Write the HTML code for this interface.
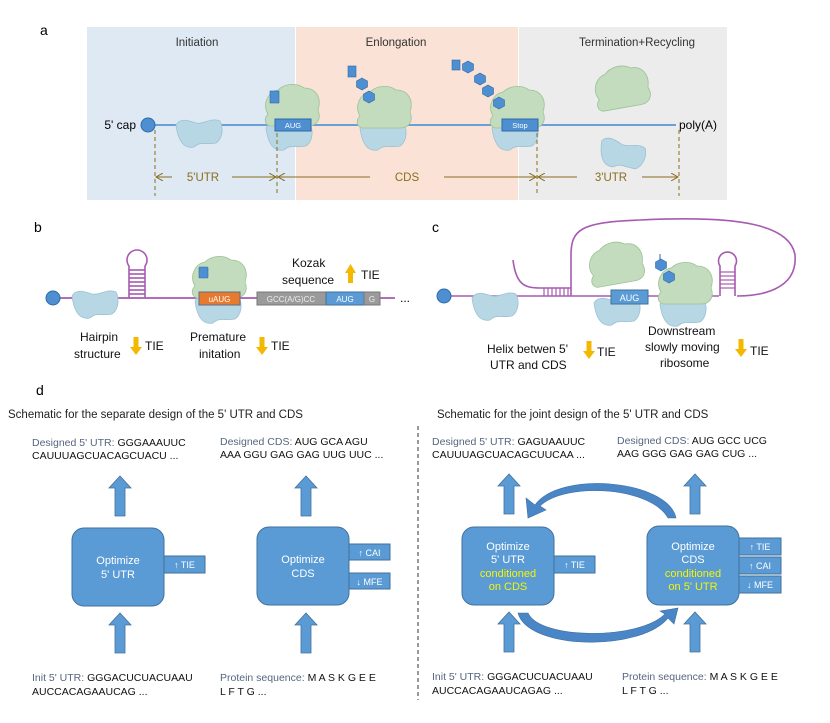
<!DOCTYPE html>
<html><head><meta charset="utf-8"><style>
body{margin:0;background:#fff}
svg{display:block;font-family:"Liberation Sans",sans-serif}
</style></head><body>
<svg width="830" height="723" viewBox="0 0 830 723" xmlns="http://www.w3.org/2000/svg">
<defs>
<marker id="ah" markerWidth="8" markerHeight="8" refX="7" refY="4" orient="auto"><path d="M0,0 L7,4 L0,8" fill="none" stroke="#8a6d1e" stroke-width="1"/></marker>
<g id="upA"><path d="M-5,0 L-5,-28 L-11,-28 L0,-40 L11,-28 L5,-28 L5,0 Z" fill="#5b9bd5" stroke="#41719c" stroke-width="0.8"/></g>
<g id="small"><path d="M0,8 C4,0 14,4 20,6 C28,8 34,0 44,4 C48,12 46,22 40,26 C30,28 24,24 18,30 C8,32 2,24 0,8Z" fill="#b8d7e5" stroke="#9cc1d3" stroke-width="0.8"/></g>
<g id="big"><path d="M6,30 C0,20 6,8 16,6 C22,0 34,-2 42,4 C54,4 60,14 56,26 C60,36 54,42 46,42 L8,42 C2,40 2,34 6,30Z" fill="#c3dcbd" stroke="#9cc295" stroke-width="0.8"/></g>
<g id="hex"><polygon points="0,-6 5.5,-3 5.5,3 0,6 -5.5,3 -5.5,-3" fill="#4d8fd0" stroke="#2f6aa8" stroke-width="0.6"/></g>
<g id="down"><path d="M-2.5,0 L2.5,0 L2.5,10 L6,10 L0,18 L-6,10 L-2.5,10Z" fill="#f5b800"/></g>
</defs>

<!-- panel a -->
<text x="40" y="35" font-size="14">a</text>
<rect x="87" y="27" width="208" height="173" fill="#dfe9f4"/>
<rect x="296" y="27" width="222" height="173" fill="#fae3d6"/>
<rect x="519" y="27" width="208" height="173" fill="#ececec"/>
<g font-size="11.5" fill="#333" text-anchor="middle">
<text x="197" y="46">Initiation</text><text x="396" y="46">Enlongation</text><text x="637" y="46">Termination+Recycling</text></g>
<line x1="150" y1="125" x2="676" y2="125" stroke="#6a9fd8" stroke-width="2"/>
<circle cx="148" cy="125" r="7" fill="#4d8fd0" stroke="#2f6aa8"/>
<text x="136" y="129" font-size="12" text-anchor="end">5' cap</text>
<text x="679" y="129" font-size="12">poly(A)</text>
<use href="#small" x="176" y="117"/>
<use href="#small" x="266" y="120"/><use href="#big" x="262" y="84"/>
<rect x="270" y="91" width="9" height="12" fill="#4d8fd0" stroke="#2f6aa8" stroke-width="0.6"/>
<rect x="275" y="119" width="36" height="12" fill="#4d8fd0" stroke="#2f6aa8"/><text x="293" y="128" font-size="7.5" fill="#fff" text-anchor="middle">AUG</text>
<use href="#small" x="360" y="120"/><use href="#big" x="354" y="86"/>
<rect x="348" y="66" width="8" height="11" fill="#4d8fd0" stroke="#2f6aa8" stroke-width="0.6"/>
<use href="#hex" x="362" y="84"/><use href="#hex" x="369" y="97"/>
<use href="#small" x="492" y="120"/><use href="#big" x="487" y="86"/>
<rect x="452" y="60" width="8" height="10" fill="#4d8fd0" stroke="#2f6aa8" stroke-width="0.6"/>
<use href="#hex" x="468" y="67"/><use href="#hex" x="480" y="79"/><use href="#hex" x="488" y="91"/><use href="#hex" x="499" y="103"/>
<rect x="502" y="119" width="36" height="12" fill="#4d8fd0" stroke="#2f6aa8"/><text x="520" y="128" font-size="7.5" fill="#fff" text-anchor="middle">Stop</text>
<use href="#big" x="592" y="66" transform="rotate(-10 620 90)"/>
<use href="#small" x="600" y="138" transform="rotate(15 620 150)"/>
<g stroke="#8a6d1e" stroke-dasharray="4,3" stroke-width="1"><line x1="155" y1="130" x2="155" y2="196"/><line x1="277" y1="133" x2="277" y2="196"/><line x1="537" y1="133" x2="537" y2="196"/><line x1="679" y1="130" x2="679" y2="196"/></g>
<g stroke="#8a6d1e" stroke-width="1" fill="none" marker-end="url(#ah)">
<line x1="172" y1="177" x2="156" y2="177"/><line x1="232" y1="177" x2="276" y2="177"/>
<line x1="370" y1="177" x2="278" y2="177"/><line x1="444" y1="177" x2="536" y2="177"/>
<line x1="577" y1="177" x2="538" y2="177"/><line x1="642" y1="177" x2="678" y2="177"/></g>
<g font-size="11.5" fill="#8a6d1e" text-anchor="middle"><text x="203" y="181">5'UTR</text><text x="407" y="181">CDS</text><text x="611" y="181">3'UTR</text></g>

<!-- panel b -->
<text x="34" y="232" font-size="14">b</text>
<line x1="52" y1="298" x2="395" y2="298" stroke="#a75ab0" stroke-width="1.8"/>
<text x="400" y="302" font-size="12">...</text>
<g stroke="#a75ab0" stroke-width="1.6" fill="none"><path d="M129,298 L129,266 A10,10 0 1 1 145,266 L145,298"/>
<line x1="129" y1="270" x2="145" y2="270"/><line x1="129" y1="274" x2="145" y2="274"/><line x1="129" y1="278" x2="145" y2="278"/><line x1="129" y1="282" x2="145" y2="282"/><line x1="129" y1="286" x2="145" y2="286"/><line x1="129" y1="290" x2="145" y2="290"/><line x1="129" y1="294" x2="145" y2="294"/></g>
<circle cx="53" cy="298" r="7" fill="#4d8fd0" stroke="#2f6aa8"/>
<use href="#small" x="72" y="288"/>
<use href="#small" x="195" y="293"/><use href="#big" x="189" y="256"/>
<rect x="199" y="267" width="9" height="11" fill="#4d8fd0" stroke="#2f6aa8" stroke-width="0.6" rx="1"/>
<rect x="199" y="292" width="41" height="13" fill="#e87a2e" stroke="#5a6e8a"/><text x="219.5" y="302" font-size="8" fill="#fff" text-anchor="middle">uAUG</text>
<rect x="257" y="292" width="69" height="13" fill="#9a9a9a" stroke="#777"/><text x="291" y="302" font-size="8" fill="#eee" text-anchor="middle">GCC(A/G)CC</text>
<rect x="326" y="292" width="38" height="13" fill="#5b9bd5" stroke="#41719c"/><text x="345" y="302" font-size="8" fill="#fff" text-anchor="middle">AUG</text>
<rect x="364" y="292" width="16" height="13" fill="#9a9a9a" stroke="#777"/><text x="372" y="302" font-size="8" fill="#eee" text-anchor="middle">G</text>
<g font-size="12" fill="#111">
<text x="292" y="267">Kozak</text><text x="282" y="284">sequence</text>
<path d="M348,283 L348,273 L345,273 L350.5,264 L356,273 L353,273 L353,283Z" fill="#f5b800"/><text x="361" y="279">TIE</text>
<text x="80" y="341">Hairpin</text><text x="74" y="358">structure</text><use href="#down" x="136" y="337"/><text x="145" y="350">TIE</text>
<text x="190" y="341">Premature</text><text x="199" y="358">initation</text><use href="#down" x="262" y="337"/><text x="271" y="350">TIE</text>

<!-- panel c -->
<text x="432" y="232" font-size="14" fill="#000">c</text>
</g>
<g stroke="#a75ab0" stroke-width="1.6" fill="none">
<path d="M443,296 L719,296"/>
<path d="M513,260 C516,285 525,288 540,288 L571,288"/>
<path d="M571,296 L571,255 C571,230 580,222 640,220 C740,215 790,225 795,255 C798,290 760,296 737,296"/>
<path d="M720,296 L720,266 A9,9 0 1 1 735,266 L735,296"/>
<g stroke-width="1.2"><line x1="544" y1="288" x2="544" y2="296"/><line x1="548" y1="288" x2="548" y2="296"/><line x1="552" y1="288" x2="552" y2="296"/><line x1="556" y1="288" x2="556" y2="296"/><line x1="560" y1="288" x2="560" y2="296"/><line x1="564" y1="288" x2="564" y2="296"/><line x1="568" y1="288" x2="568" y2="296"/>
<line x1="720" y1="272" x2="735" y2="272"/><line x1="720" y1="276" x2="735" y2="276"/><line x1="720" y1="280" x2="735" y2="280"/><line x1="720" y1="284" x2="735" y2="284"/><line x1="720" y1="288" x2="735" y2="288"/></g>
</g>
<circle cx="444" cy="296" r="7" fill="#4d8fd0" stroke="#2f6aa8"/>
<use href="#small" x="472" y="290"/>
<use href="#big" x="586" y="242" transform="rotate(-10 615 265)"/>
<use href="#small" x="594" y="295"/>
<rect x="611" y="290" width="37" height="14" fill="#5b9bd5" stroke="#41719c"/><text x="629.5" y="301" font-size="9" fill="#fff" text-anchor="middle">AUG</text>
<use href="#small" x="660" y="296"/><use href="#big" x="655" y="262"/>
<line x1="660" y1="254" x2="660" y2="260" stroke="#2f6aa8"/><use href="#hex" x="661" y="265"/><use href="#hex" x="669" y="277"/>
<g font-size="12" fill="#111">
<text x="487" y="353">Helix betwen 5'</text><text x="490" y="369">UTR and CDS</text><use href="#down" x="589" y="341"/><text x="597" y="356">TIE</text>
<text x="648" y="335">Downstream</text><text x="645" y="351">slowly moving</text><text x="660" y="367">ribosome</text><use href="#down" x="741" y="339"/><text x="750" y="355">TIE</text>
</g>

<!-- panel d -->
<text x="36" y="395" font-size="14">d</text>
<text x="8" y="418" font-size="11.5" fill="#222">Schematic for the separate design of the 5' UTR and CDS</text>
<text x="437" y="418" font-size="11.5" fill="#222">Schematic for the joint design of the 5' UTR and CDS</text>
<line x1="418" y1="426" x2="418" y2="700" stroke="#333" stroke-dasharray="4,3"/>
<g font-size="10.5" fill="#111">
<text x="32" y="446"><tspan fill="#56657f">Designed 5' UTR:</tspan>  GGGAAAUUC</text><text x="32" y="459">CAUUUAGCUACAGCUACU ...</text>
<text x="220" y="445"><tspan fill="#56657f">Designed CDS:</tspan>  AUG GCA AGU</text><text x="220" y="458">AAA GGU GAG GAG UUG UUC ...</text>
<text x="32" y="681"><tspan fill="#56657f">Init 5' UTR:</tspan> GGGACUCUACUAAU</text><text x="32" y="695">AUCCACAGAAUCAG ...</text>
<text x="220" y="681"><tspan fill="#56657f">Protein sequence:</tspan> M A S K G E E</text><text x="220" y="695">L F T G ...</text>
<text x="432" y="445"><tspan fill="#56657f">Designed 5' UTR:</tspan>  GAGUAAUUC</text><text x="432" y="458">CAUUUAGCUACAGCUUCAA ...</text>
<text x="617" y="444"><tspan fill="#56657f">Designed CDS:</tspan>  AUG GCC UCG</text><text x="617" y="457">AAG GGG GAG GAG CUG  ...</text>
<text x="432" y="680"><tspan fill="#56657f">Init 5' UTR:</tspan> GGGACUCUACUAAU</text><text x="432" y="694">AUCCACAGAAUCAGAG ...</text>
<text x="622" y="680"><tspan fill="#56657f">Protein sequence:</tspan> M A S K G E E</text><text x="622" y="694">L F T G ...</text>
</g>
<use href="#upA" x="120" y="516"/><use href="#upA" x="306" y="516"/><use href="#upA" x="120" y="653"/><use href="#upA" x="306" y="653"/>
<use href="#upA" x="509" y="514"/><use href="#upA" x="695" y="514"/><use href="#upA" x="509" y="652"/><use href="#upA" x="695" y="652"/>
<g fill="#5b9bd5" stroke="#41719c" stroke-width="1">
<rect x="72" y="528" width="92" height="78" rx="12"/>
<rect x="164" y="556" width="41" height="17"/>
<rect x="257" y="527" width="92" height="78" rx="12"/>
<rect x="349" y="544" width="41" height="16"/><rect x="349" y="573" width="41" height="16"/>
<rect x="462" y="527" width="92" height="78" rx="12"/>
<rect x="554" y="556" width="41" height="17"/>
<rect x="647" y="526" width="92" height="79" rx="12"/>
<rect x="739" y="538" width="42" height="17"/><rect x="739" y="557" width="42" height="17"/><rect x="739" y="576" width="42" height="17"/>
</g>
<!-- curved arrows -->
<path d="M676,518 C668,480 560,470 535,505 L526,498 L528,518 L546,510 L540,506 C565,482 650,486 668,518Z" fill="#4a86c5" stroke="#3b70a8" stroke-width="0.6"/>
<path d="M518,613 C528,650 640,652 668,618 L674,624 L678,608 L660,611 L665,614 C640,640 540,640 528,613Z" fill="#4a86c5" stroke="#3b70a8" stroke-width="0.6"/>
<g font-size="11" fill="#fff" text-anchor="middle">
<text x="118" y="564">Optimize</text><text x="118" y="578">5' UTR</text>
<text x="303" y="563">Optimize</text><text x="303" y="577">CDS</text>
<text x="184.5" y="568" font-size="9">↑ TIE</text>
<text x="369.5" y="556" font-size="9">↑ CAI</text><text x="369.5" y="585" font-size="9">↓ MFE</text>
<text x="508" y="550">Optimize</text><text x="508" y="563">5' UTR</text>
<text x="508" y="577" fill="#f5f500">conditioned</text><text x="508" y="590" fill="#f5f500">on CDS</text>
<text x="693" y="550">Optimize</text><text x="693" y="563">CDS</text>
<text x="693" y="577" fill="#f5f500">conditioned</text><text x="693" y="590" fill="#f5f500">on 5' UTR</text>
<text x="574.5" y="568" font-size="9">↑ TIE</text>
<text x="760" y="550" font-size="9">↑ TIE</text><text x="760" y="569" font-size="9">↑ CAI</text><text x="760" y="588" font-size="9">↓ MFE</text>
</g>
</svg>
</body></html>
